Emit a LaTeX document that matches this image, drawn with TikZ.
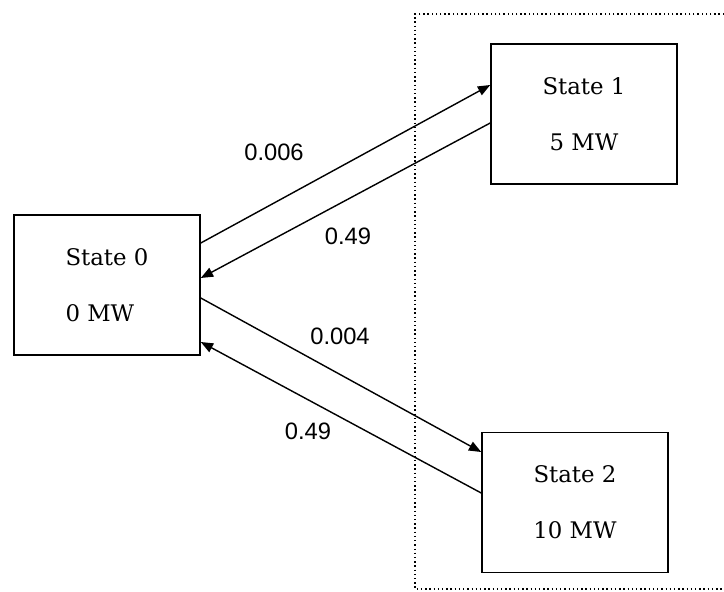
\documentclass[tikz,border=0pt]{standalone}
\usepackage{fontspec}
\setmainfont{DejaVu Serif}
\newfontfamily\ratefont{Liberation Sans}
\usepackage{tikz}
\usetikzlibrary{arrows.meta,calc}

\begin{document}
\begin{tikzpicture}[
  statebox/.style={draw,line width=0.9pt,minimum width=3.72cm,minimum height=2.80cm,
                   inner sep=0pt,align=center,font=\fontsize{13}{32}\selectfont},
  rate/.style={font=\ratefont\fontsize{13.5}{16}\selectfont},
  trans/.style={line width=0.8pt,-{Triangle[length=7pt,width=5.5pt]}},
]
\useasboundingbox (0,0) rectangle (14.48,11.82);
% ---------- dotted frame ----------
\draw[line width=0.8pt,dash pattern=on 0.8pt off 1.6pt]
  (14.48,11.54) -- (8.30,11.54) -- (8.30,0.04) -- (14.48,0.04);

% ---------- states ----------
\node[statebox,align=left] (s0) at (2.14,6.12) {State 0\\0 MW};
\node[statebox] (s1) at (11.68,9.54) {State 1\\5 MW};
\node[statebox] (s2) at (11.50,1.77) {State 2\\10 MW};

% ---------- transitions ----------
\draw[trans] ($(s0.east)+(0,0.84)$) -- ($(s1.west)+(0,0.58)$);
\draw[trans] ($(s1.west)+(0,-0.18)$) -- ($(s0.east)+(0,0.14)$);
\draw[trans] ($(s0.east)+(0,-0.26)$) -- ($(s2.west)+(0,1.01)$);
\draw[trans] ($(s2.west)+(0,0.19)$) -- ($(s0.east)+(0,-1.14)$);

% ---------- rates ----------
\node[rate] (r01) at (5.48,8.78) {0.006};
\node[rate] (r10) at (6.96,7.10) {0.49};
\node[rate] (r02) at (6.80,5.10) {0.004};
\node[rate] (r20) at (6.16,3.20) {0.49};
\end{tikzpicture}
\end{document}
